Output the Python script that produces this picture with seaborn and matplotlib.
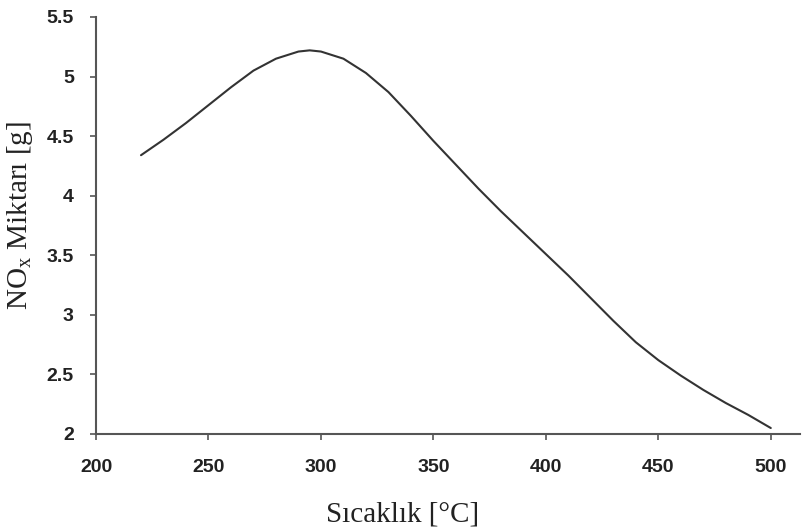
import matplotlib
matplotlib.use("Agg")
import matplotlib.pyplot as plt
import seaborn as sns
import pandas as pd

temperature = [220, 230, 240, 250, 260, 270, 280, 290, 295, 300, 310, 320, 330, 340, 350,
               360, 370, 380, 390, 400, 410, 420, 430, 440, 450, 460, 470, 480, 490, 500]
nox = [4.34, 4.47, 4.61, 4.76, 4.91, 5.05, 5.15, 5.21, 5.22, 5.21, 5.15, 5.03, 4.87, 4.67, 4.46,
       4.26, 4.06, 3.87, 3.69, 3.51, 3.33, 3.14, 2.95, 2.77, 2.62, 2.49, 2.37, 2.26, 2.16, 2.05]
xticks = [200, 250, 300, 350, 400, 450, 500]
yticks = [2, 2.5, 3, 3.5, 4, 4.5, 5, 5.5]
ytick_labels = ["2", "2.5", "3", "3.5", "4", "4.5", "5", "5.5"]

df = pd.DataFrame({"T": temperature, "NOx": nox})

sns.set_style("ticks")
plt.rcParams["font.family"] = ["Liberation Sans", "DejaVu Sans"]

fig = plt.figure(figsize=(8.09, 5.31), dpi=100)
ax = fig.add_axes([0.1187, 0.1827, 0.8702, 0.7853])
sns.lineplot(data=df, x="T", y="NOx", ax=ax, color="#333333", linewidth=1.5)

ax.set_xlim(200, 513)
ax.set_ylim(2, 5.5)
ax.set_xticks(xticks)
ax.set_yticks(yticks)
ax.set_yticklabels(ytick_labels)
for s in ["top", "right"]:
    ax.spines[s].set_visible(False)
for s in ["left", "bottom"]:
    ax.spines[s].set_color("#555555")
    ax.spines[s].set_linewidth(1.5)
ax.tick_params(axis="both", direction="out", length=4, width=1.2, color="#555555",
               labelsize=14, labelcolor="#222222")
ax.tick_params(axis="x", pad=14)
ax.tick_params(axis="y", pad=12)
for lab in ax.get_xticklabels() + ax.get_yticklabels():
    lab.set_fontweight("bold")

serif = ["Liberation Serif", "DejaVu Serif"]
ax.set_xlabel("Sıcaklık [°C]", family=serif, fontsize=21, color="#222222")
ax.set_ylabel("NO$\\mathregular{_x}$ Miktarı [g]", family=serif, fontsize=21, color="#222222")
ax.xaxis.set_label_coords(0.435, -0.163)
ax.yaxis.set_label_coords(-0.087, 0.523)

fig.savefig("out.png", dpi=100)
